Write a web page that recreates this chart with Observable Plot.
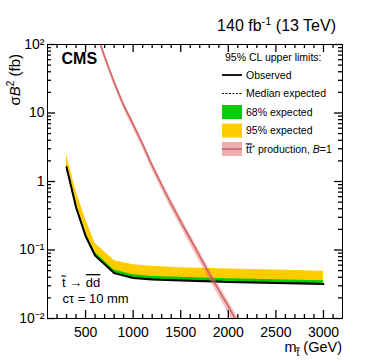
<!DOCTYPE html>
<html><head><meta charset="utf-8">
<script src="https://cdn.jsdelivr.net/npm/d3@7"></script>
<script src="https://cdn.jsdelivr.net/npm/@observablehq/plot@0.6"></script>
<style>
body{margin:0;background:#fff}
svg{font-family:"Liberation Sans",Arial,Helvetica,sans-serif}
</style>
</head><body><div id="chart"></div><script>
// ---- data ----
const masses   = [300, 400, 500, 600, 800, 1000, 1200, 1500, 2000, 2500, 3000];
const observed = [1.62, 0.42, 0.160, 0.083, 0.046, 0.039, 0.037, 0.036, 0.034, 0.033, 0.032];
const expected = [1.64, 0.425, 0.162, 0.084, 0.0465, 0.0395, 0.0375, 0.0365, 0.0345, 0.0335, 0.0325];
const exp68lo  = [1.60, 0.415, 0.158, 0.082, 0.0455, 0.0386, 0.0366, 0.0356, 0.0336, 0.0326, 0.0317];
const exp68hi  = [1.78, 0.465, 0.178, 0.092, 0.0510, 0.0435, 0.0412, 0.0400, 0.0380, 0.0368, 0.0357];
const exp95lo  = [1.58, 0.41, 0.156, 0.081, 0.0450, 0.0381, 0.0362, 0.0352, 0.0332, 0.0322, 0.0313];
const exp95hi  = [2.48, 0.72, 0.28, 0.125, 0.070, 0.061, 0.058, 0.055, 0.053, 0.051, 0.049];

const stopMass = [600, 700, 800, 900, 1000, 1100, 1200, 1300, 1400, 1500, 1600, 1700, 1800, 1900, 2000, 2100, 2200];
const stopXsec = [175, 67, 28.3, 13.0, 6.83, 3.50, 1.70, 0.89, 0.47, 0.26, 0.145, 0.081, 0.045, 0.026, 0.015, 0.0085, 0.0050];
const xsecLo   = [158, 60, 25.2, 11.5, 6.01, 3.06, 1.47, 0.76, 0.40, 0.219, 0.121, 0.067, 0.037, 0.0211, 0.0120, 0.0067, 0.0039];
const xsecHi   = [192, 74, 31.4, 14.5, 7.65, 3.94, 1.93, 1.02, 0.54, 0.301, 0.169, 0.095, 0.053, 0.0309, 0.0180, 0.0103, 0.0061];

const xMajorTicks = [500, 1000, 1500, 2000, 2500, 3000];
const xMinorTicks = [200,300,400,600,700,800,900,1100,1200,1300,1400,1600,1700,1800,1900,2100,2200,2300,2400,2600,2700,2800,2900,3100];
const yMajorTicks = [0.01, 0.1, 1, 10, 100];
const yMajorLabels = ["10\u207B\u00B2", "10\u207B\u00B9", "1", "10", "10\u00B2"];
const yMinorTicks = [0.02,0.03,0.04,0.05,0.06,0.07,0.08,0.09,0.2,0.3,0.4,0.5,0.6,0.7,0.8,0.9,2,3,4,5,6,7,8,9,20,30,40,50,60,70,80,90];

const limits = masses.map((m, i) => ({m, obs: observed[i], exp: expected[i], lo68: exp68lo[i], hi68: exp68hi[i], lo95: exp95lo[i], hi95: exp95hi[i]}));
const xsec = stopMass.map((m, i) => ({m, xs: stopXsec[i], lo: xsecLo[i], hi: xsecHi[i]}));

const YELLOW = "#ffcc00", GREEN = "#00cc00", PINK = "#dd7070", RED = "#c94848";
const W = 374, H = 363, ML = 47, MR = 32, MT = 44, MB = 45;
const FW = W - ML - MR, FH = H - MT - MB;
const MAJ = 8, MIN = 4;
const tk = {stroke: "black", strokeWidth: 1.3};

const plot = Plot.plot({
  width: W, height: H,
  marginLeft: ML, marginRight: MR, marginTop: MT, marginBottom: MB,
  style: {fontFamily: "Liberation Sans, Arial, Helvetica, sans-serif", fontSize: "14px", color: "black", background: "white", overflow: "visible"},
  x: {type: "linear", domain: [100, 3200]},
  y: {type: "log", domain: [0.01, 100]},
  marks: [
    Plot.areaY(limits, {x: "m", y1: "lo95", y2: "hi95", fill: YELLOW}),
    Plot.areaY(limits, {x: "m", y1: "lo68", y2: "hi68", fill: GREEN}),
    Plot.lineY(limits, {x: "m", y: "exp", stroke: "black", strokeWidth: 1, strokeDasharray: "3,2"}),
    Plot.lineY(limits, {x: "m", y: "obs", stroke: "black", strokeWidth: 2}),
    Plot.areaY(xsec, {x: "m", y1: "lo", y2: "hi", fill: PINK, fillOpacity: 0.45, clip: true}),
    Plot.lineY(xsec, {x: "m", y: "xs", stroke: RED, strokeOpacity: 0.8, strokeWidth: 1.5, clip: true}),
    // inward ticks on all four sides
    Plot.tickX(xMajorTicks, {x: d => d, insetTop: FH - MAJ, ...tk}),
    Plot.tickX(xMinorTicks, {x: d => d, insetTop: FH - MIN, ...tk}),
    Plot.tickX(xMajorTicks, {x: d => d, insetBottom: FH - MAJ, ...tk}),
    Plot.tickX(xMinorTicks, {x: d => d, insetBottom: FH - MIN, ...tk}),
    Plot.tickY(yMajorTicks, {y: d => d, insetRight: FW - MAJ, ...tk}),
    Plot.tickY(yMinorTicks, {y: d => d, insetRight: FW - MIN, ...tk}),
    Plot.tickY(yMajorTicks, {y: d => d, insetLeft: FW - MAJ, ...tk}),
    Plot.tickY(yMinorTicks, {y: d => d, insetLeft: FW - MIN, ...tk}),
    // tick labels
    Plot.axisX(xMajorTicks, {anchor: "bottom", tickSize: 0, tickPadding: 9, fontSize: 14, label: null, tickFormat: d => String(d)}),
    Plot.axisY(yMajorTicks, {anchor: "left", tickSize: 0, tickPadding: 3, fontSize: 14, label: null, tickFormat: d => yMajorLabels[yMajorTicks.indexOf(d)]}),
    Plot.frame({stroke: "black", strokeWidth: 1}),
    Plot.text(["CMS"], {frameAnchor: "top-left", dx: 14, dy: 8, lineAnchor: "top", textAnchor: "start", fontWeight: "bold", fontSize: 16}),
    Plot.text(["c\u03C4 = 10 mm"], {frameAnchor: "bottom-left", dx: 15, dy: -20, lineAnchor: "middle", textAnchor: "start", fontSize: 13})
  ]
});
document.getElementById("chart").appendChild(plot);

// ---- extra text and legend with tspans ----
const svg = d3.select(plot);
const g = svg.append("g").attr("font-family", "Liberation Sans, Arial, Helvetica, sans-serif").attr("fill", "black").attr("text-anchor", "start");

// luminosity title
const lumi = g.append("text").attr("x", 336).attr("y", 31).attr("text-anchor", "end").attr("font-size", 16);
lumi.append("tspan").text("140 fb");
lumi.append("tspan").attr("font-size", 11).attr("dy", -6).text("-1");
lumi.append("tspan").attr("dy", 6).text(" (13 TeV)");

// y-axis title
const yt = g.append("text").attr("transform", "translate(19.5,54) rotate(-90)").attr("text-anchor", "end").attr("font-size", 15);
yt.append("tspan").text("\u03C3");
yt.append("tspan").attr("font-style", "italic").text("B");
yt.append("tspan").attr("font-size", 10).attr("dy", -6).text("2");
yt.append("tspan").attr("dy", 6).text(" (fb)");

// x-axis title
const xt = g.append("text").attr("x", 342).attr("y", 352).attr("text-anchor", "end").attr("font-size", 14.5);
xt.append("tspan").text("m");
xt.append("tspan").attr("font-size", 10).attr("dy", 4).text("t\u0303");
xt.append("tspan").attr("dy", -4).text(" (GeV)");

// process label
const pl = g.append("text").attr("x", 62).attr("y", 287).attr("font-size", 13);
pl.append("tspan").text("t\u0303 \u2192 ");
pl.append("tspan").style("text-decoration", "overline").text("dd");

// legend
const lg = g.append("g").attr("font-size", 10.5);
lg.append("text").attr("x", 225).attr("y", 61).text("95% CL upper limits:");
const rowY = [75, 93.5, 112, 130.5, 149];
const tx = 246;
lg.append("line").attr("x1", 222).attr("x2", 242).attr("y1", rowY[0]).attr("y2", rowY[0]).attr("stroke", "black").attr("stroke-width", 1.8);
lg.append("text").attr("x", tx).attr("y", rowY[0]).attr("dy", "0.35em").text("Observed");
lg.append("line").attr("x1", 222).attr("x2", 242).attr("y1", rowY[1]).attr("y2", rowY[1]).attr("stroke", "black").attr("stroke-width", 1).attr("stroke-dasharray", "2,1.5");
lg.append("text").attr("x", tx).attr("y", rowY[1]).attr("dy", "0.35em").text("Median expected");
lg.append("rect").attr("x", 222).attr("y", rowY[2] - 7).attr("width", 20).attr("height", 14).attr("fill", GREEN);
lg.append("text").attr("x", tx).attr("y", rowY[2]).attr("dy", "0.35em").text("68% expected");
lg.append("rect").attr("x", 222).attr("y", rowY[3] - 7).attr("width", 20).attr("height", 14).attr("fill", YELLOW);
lg.append("text").attr("x", tx).attr("y", rowY[3]).attr("dy", "0.35em").text("95% expected");
lg.append("rect").attr("x", 222).attr("y", rowY[4] - 7).attr("width", 20).attr("height", 14).attr("fill", PINK).attr("fill-opacity", 0.55);
lg.append("line").attr("x1", 222).attr("x2", 242).attr("y1", rowY[4]).attr("y2", rowY[4]).attr("stroke", RED).attr("stroke-opacity", 0.8).attr("stroke-width", 1.5);
const pt = lg.append("text").attr("x", tx).attr("y", rowY[4]).attr("dy", "0.35em");
pt.append("tspan").text("t\u0303t\u0303");
pt.append("tspan").attr("font-size", 8).attr("dy", -3).text("*");
pt.append("tspan").attr("dy", 3).text(" production, ");
pt.append("tspan").attr("font-style", "italic").text("B");
pt.append("tspan").text("=1");
</script></body></html>
